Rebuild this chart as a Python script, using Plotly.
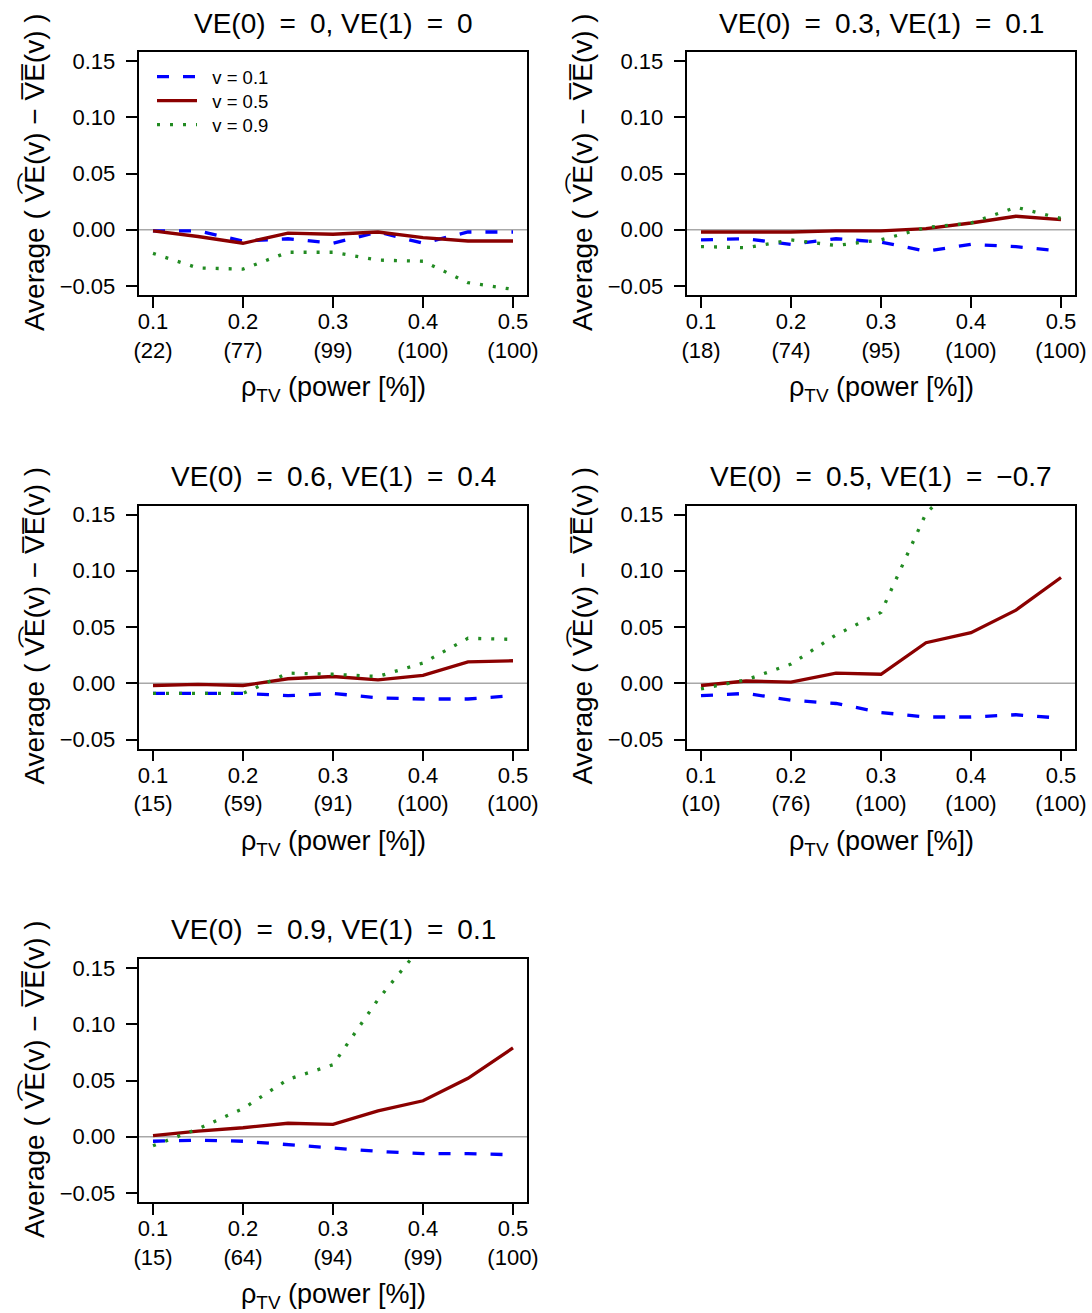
import plotly.graph_objects as go

W, H = 1092, 1313

# ---------------- data ----------------
rho = [0.1, 0.15, 0.2, 0.25, 0.3, 0.35, 0.4, 0.45, 0.5]
tick_rho = [0.1, 0.2, 0.3, 0.4, 0.5]

EQ = "\u2002=\u2002"
titles = ["VE(0)" + EQ + "0, VE(1)" + EQ + "0",
          "VE(0)" + EQ + "0.3, VE(1)" + EQ + "0.1",
          "VE(0)" + EQ + "0.6, VE(1)" + EQ + "0.4",
          "VE(0)" + EQ + "0.5, VE(1)" + EQ + "\u22120.7",
          "VE(0)" + EQ + "0.9, VE(1)" + EQ + "0.1"]

power_1 = [22, 77, 99, 100, 100]
power_2 = [18, 74, 95, 100, 100]
power_3 = [15, 59, 91, 100, 100]
power_4 = [10, 76, 100, 100, 100]
power_5 = [15, 64, 94, 99, 100]

v01_1 = [-0.001, -0.001, -0.010, -0.008, -0.012, -0.002, -0.012, -0.002, -0.002]
v05_1 = [-0.001, -0.006, -0.012, -0.003, -0.004, -0.002, -0.007, -0.010, -0.010]
v09_1 = [-0.021, -0.034, -0.035, -0.020, -0.020, -0.027, -0.028, -0.047, -0.053]

v01_2 = [-0.009, -0.008, -0.013, -0.008, -0.011, -0.019, -0.013, -0.015, -0.019]
v05_2 = [-0.002, -0.002, -0.002, -0.001, -0.001, 0.001, 0.006, 0.012, 0.009]
v09_2 = [-0.015, -0.016, -0.009, -0.014, -0.009, 0.002, 0.006, 0.020, 0.010]

v01_3 = [-0.009, -0.009, -0.009, -0.011, -0.009, -0.013, -0.014, -0.014, -0.011]
v05_3 = [-0.002, -0.001, -0.002, 0.004, 0.006, 0.003, 0.007, 0.019, 0.020]
v09_3 = [-0.009, -0.009, -0.009, 0.009, 0.008, 0.006, 0.018, 0.040, 0.039]

v01_4 = [-0.011, -0.009, -0.015, -0.018, -0.026, -0.030, -0.030, -0.028, -0.031]
v05_4 = [-0.002, 0.002, 0.001, 0.009, 0.008, 0.036, 0.045, 0.065, 0.094]
v09_4 = [-0.005, 0.003, 0.017, 0.043, 0.063, 0.151, 0.190, 0.230, 0.270]

v01_5 = [-0.004, -0.003, -0.004, -0.007, -0.010, -0.013, -0.015, -0.015, -0.016]
v05_5 = [0.001, 0.005, 0.008, 0.012, 0.011, 0.023, 0.032, 0.052, 0.079]
v09_5 = [-0.008, 0.007, 0.025, 0.051, 0.064, 0.122, 0.171, 0.220, 0.270]

y_ticks = [-0.05, 0.0, 0.05, 0.10, 0.15]
y_ticktext = ["\u22120.05", "0.00", "0.05", "0.10", "0.15"]

powers = [power_1, power_2, power_3, power_4, power_5]
series = [(v01_1, v05_1, v09_1), (v01_2, v05_2, v09_2), (v01_3, v05_3, v09_3),
          (v01_4, v05_4, v09_4), (v01_5, v05_5, v09_5)]
legend_names = ["v = 0.1", "v = 0.5", "v = 0.9"]

# ---------------- styling ----------------
FONT = "Liberation Sans, Arial, Helvetica, sans-serif"
colors = ["#0000FF", "#8B0000", "#228B22"]
dashes = ["12px,14px", "solid", "3px,10px"]
widths = [3.3, 3.3, 3.3]

def px_x(x):
    return x / W

def px_y(y):
    return 1 - y / H

col_left = [138.6, 686.6]
box_w = 388.8
row_top = [52.0, 505.5, 959.0]
box_h = 243.0
legend_rows = [77, 101, 125]
legend_ids = ["legend", "legend2", "legend3"]

fig = go.Figure()
layout = dict(
    width=W, height=H, margin=dict(l=0, r=0, t=0, b=0, autoexpand=False),
    paper_bgcolor="white", plot_bgcolor="white",
    font=dict(family=FONT, color="black"),
    showlegend=True,
)
for lid, ly in zip(legend_ids, legend_rows):
    layout[lid] = dict(x=px_x(152), y=px_y(ly), xanchor="left", yanchor="middle",
                       bgcolor="rgba(0,0,0,0)", font=dict(size=18.5, family=FONT),
                       itemwidth=40, tracegroupgap=0)

annotations = []
shapes = []

for i in range(5):
    r, c = divmod(i, 2)
    x0 = col_left[c]
    y0 = row_top[r]
    idx = "" if i == 0 else str(i + 1)
    xa = "xaxis" + idx
    ya = "yaxis" + idx
    layout[xa] = dict(
        domain=[px_x(x0), px_x(x0 + box_w)], anchor="y" + idx,
        range=[0.084, 0.516], showgrid=False, zeroline=False,
        showline=True, mirror=True, linecolor="black", linewidth=1.8,
        ticks="outside", ticklen=11, tickwidth=1.5, tickcolor="black",
        tickvals=tick_rho,
        ticktext=[f"{t:g}<br>({p})" for t, p in zip(tick_rho, powers[i])],
        tickfont=dict(size=22, family=FONT), ticklabelstandoff=-5,
    )
    layout[ya] = dict(
        domain=[px_y(y0 + box_h), px_y(y0)], anchor="x" + idx,
        range=[-0.058, 0.158], showgrid=False, zeroline=False,
        showline=True, mirror=True, linecolor="black", linewidth=1.8,
        ticks="outside", ticklen=11, tickwidth=1.5, tickcolor="black",
        tickvals=y_ticks, ticktext=y_ticktext,
        tickfont=dict(size=22, family=FONT), ticklabelstandoff=6,
    )
    # zero reference line
    shapes.append(dict(type="line", xref="x" + idx + " domain", yref="y" + idx,
                       x0=0, x1=1, y0=0, y1=0, layer="below",
                       line=dict(color="#A8A8A8", width=1.6)))
    for k, ys in enumerate(series[i]):
        fig.add_trace(go.Scatter(
            x=rho, y=ys, mode="lines",
            name="\u00a0\u00a0" + legend_names[k],
            xaxis="x" + idx, yaxis="y" + idx, showlegend=(i == 0),
            legend=legend_ids[k],
            line=dict(color=colors[k], width=widths[k], dash=dashes[k]),
            cliponaxis=True,
        ))
    cx = x0 + box_w / 2
    annotations.append(dict(text=titles[i], x=px_x(cx), y=px_y(y0 - 29),
                            xref="paper", yref="paper", showarrow=False,
                            xanchor="center", yanchor="middle",
                            font=dict(size=28, family=FONT)))
    annotations.append(dict(text="\u03c1<sub>TV</sub> (power [%])", x=px_x(cx),
                            y=px_y(y0 + 337), xref="paper", yref="paper",
                            showarrow=False, xanchor="center", yanchor="middle",
                            font=dict(size=27, family=FONT)))
    annotations.append(dict(
        text="Average ( V\u0361E(v) \u2212 V\u0305E\u0305(v) )",
        x=px_x(x0 - 105), y=px_y(y0 + box_h / 2 - 1), xref="paper", yref="paper",
        showarrow=False, xanchor="center", yanchor="middle", textangle=-90,
        font=dict(size=28, family=FONT)))

layout["annotations"] = annotations
layout["shapes"] = shapes
fig.update_layout(**layout)
fig.write_html(
    "out.html",
    config={"responsive": False, "displayModeBar": False},
    post_script="document.body.style.margin='0';document.body.style.overflow='hidden';",
)
